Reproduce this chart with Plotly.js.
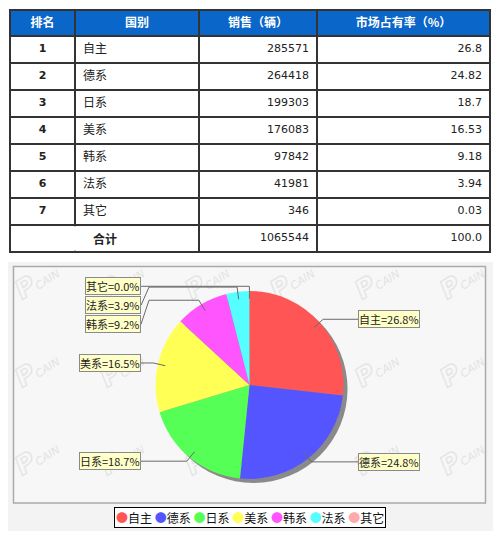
<!DOCTYPE html>
<html><head><meta charset="utf-8">
<script src="https://cdn.plot.ly/plotly-3.0.1.min.js"></script>
<style>html,body{margin:0;padding:0;background:#fff}#chart{width:500px;height:538px}</style>
</head><body><div id="chart"></div>
<script>
// ---- data ----
const headers = ['排名', '国别', '销售（辆）', '市场占有率（%）'];
const ranks = ['1', '2', '3', '4', '5', '6', '7'];
const categories = ['自主', '德系', '日系', '美系', '韩系', '法系', '其它'];
const sales = [285571, 264418, 199303, 176083, 97842, 41981, 346];
const shares = ['26.8', '24.82', '18.7', '16.53', '9.18', '3.94', '0.03'];
const totalLabel = '合计';
const totalSales = '1065544';
const totalShare = '100.0';
const colors = ['#ff5555', '#5555ff', '#55ff55', '#ffff55', '#ff55ff', '#55ffff', '#ffaaaa'];

// ---- layout helpers ----
const W = 500, H = 538;
const px = x => x / W;
const py = y => 1 - y / H;
const CJK = '"Noto Sans CJK SC", "DejaVu Sans", sans-serif';
const NUM = '"DejaVu Sans", "Noto Sans CJK SC", sans-serif';

// table geometry
const tX0 = 10, tX1 = 490, tY0 = 10, headH = 26, rowH = 27;
const colW = [65, 124, 118, 173];
const nRows = ranks.length + 1;
const tY1 = tY0 + headH + nRows * rowH;

// pie geometry
const cx = 249.5, cy = 385, R = 94;

const traces = [];
traces.push({
  type: 'table',
  domain: {x: [px(tX0), px(tX1)], y: [py(tY1 + 1), py(tY0)]},
  columnwidth: colW,
  header: {
    values: headers,
    align: 'center',
    height: headH,
    fill: {color: '#0a66c8'},
    line: {color: '#333', width: 1.5},
    font: {family: CJK, size: 12, color: '#ffffff', weight: 'bold'}
  },
  cells: {
    values: [
      ranks.concat(['']),
      categories.concat(['']),
      sales.map(String).concat([totalSales]),
      shares.concat([totalShare])
    ],
    align: ['center', 'left', 'right', 'right'],
    height: rowH,
    fill: {color: '#ffffff'},
    line: {color: '#333', width: 1.5},
    font: {family: [NUM, CJK, NUM, NUM], size: [11, 12, 11, 11], color: '#222',
           weight: ['bold', 'normal', 'normal', 'normal']}
  }
});

// pie shadow
const sh = 4;
traces.push({
  type: 'pie', values: [1], labels: ['shadow'], sort: false,
  marker: {colors: ['#8a8a8a'], line: {width: 0}},
  textinfo: 'none', hoverinfo: 'none', showlegend: false,
  domain: {x: [px(cx - R + sh), px(cx + R + sh)], y: [py(cy + R + sh), py(cy - R + sh)]}
});
traces.push({
  type: 'pie', values: sales, labels: categories, sort: false,
  direction: 'clockwise', rotation: 0,
  marker: {colors: colors, line: {width: 0}},
  textinfo: 'none', hoverinfo: 'none', showlegend: false,
  domain: {x: [px(cx - R), px(cx + R)], y: [py(cy + R), py(cy - R)]}
});

// ---- labels with JFreeChart-like links ----
const total = sales.reduce((a, b) => a + b, 0);
let cum = 0;
const info = sales.map((v, i) => {
  const f = v / total;
  const th = 2 * Math.PI * (cum + f / 2);
  cum += f;
  const pt = k => [cx + k * R * Math.sin(th), cy - k * R * Math.cos(th)];
  const left = Math.sin(th) < 0;
  return {i, f, anchor: pt(0.92), elbow: pt(1.05), left,
          text: categories[i] + '=' + (f * 100).toFixed(1) + '%'};
});
[true, false].forEach(side => {
  const arr = info.filter(d => d.left === side).sort((a, b) => a.elbow[1] - b.elbow[1]);
  let prev = -1e9;
  arr.forEach(d => { d.ly = Math.max(d.elbow[1], prev + 19); prev = d.ly; });
});
const gap = 14.5;
const shapes = [];
const annotations = [];

// chart background with faint watermark (as a below-layer image)
const bgX0 = 8, bgY0 = 262, bgW = 485, bgH = 269;
let wm = '';
for (let r = 0; r < 3; r++) {
  for (let c = 0; c < 6; c++) {
    const wx = 22 + c * 85 - bgX0, wy = 300 + r * 88 - bgY0;
    wm += '<text x="0" y="0" transform="translate(' + wx + ',' + wy + ') rotate(-32)" font-family="DejaVu Sans" font-style="italic" font-size="11" fill="#e3e3e3">' +
          '<tspan font-size="26" font-weight="bold" fill="none" stroke="#e3e3e3" stroke-width="1.2">P</tspan>CAIN</text>';
  }
}
const bgSvg = '<svg xmlns="http://www.w3.org/2000/svg" width="' + bgW + '" height="' + bgH + '">' +
  '<rect x="0" y="0" width="' + bgW + '" height="' + bgH + '" fill="#f3f3f3"/>' +
  '<rect x="5.5" y="4.5" width="472" height="236.5" fill="#f7f7f7"/>' + wm + '</svg>';
const images = [{
  source: 'data:image/svg+xml;charset=utf-8,' + encodeURIComponent(bgSvg),
  xref: 'paper', yref: 'paper', x: px(bgX0), y: py(bgY0), sizex: bgW / W, sizey: bgH / H,
  xanchor: 'left', yanchor: 'top', sizing: 'stretch', layer: 'below'
}];
shapes.push({type: 'rect', xref: 'paper', yref: 'paper', layer: 'below',
  x0: px(13.5), x1: px(485.5), y0: py(503), y1: py(266.5), line: {color: '#aaaaaa', width: 1.5}});

info.forEach(d => {
  const edge = d.left ? cx - R - gap : cx + R + gap;
  const bend = d.left ? edge + 8 : edge - 8;
  const pts = [d.anchor, d.elbow, [bend, d.elbow[1]], [edge, d.ly]];
  const path = pts.map((p, k) => (k ? 'L' : 'M') + px(p[0]) + ',' + py(p[1])).join(' ');
  shapes.push({type: 'path', xref: 'paper', yref: 'paper', path: path, line: {color: '#6a6a6a', width: 1}});
  annotations.push({xref: 'paper', yref: 'paper', x: px(edge), y: py(d.ly),
    xanchor: d.left ? 'right' : 'left', yanchor: 'middle', showarrow: false,
    text: d.text, borderpad: 0, borderwidth: 1,
    font: {family: CJK, size: 11, color: '#222'}, bgcolor: '#ffffc8', bordercolor: '#8a8a8a'});
});

// merged total cell: hide the divider between the first two columns in the last row
const rowTop = tY0 + headH + ranks.length * rowH;
shapes.push({type: 'rect', xref: 'paper', yref: 'paper', layer: 'above',
  x0: px(tX0 + 1.5), x1: px(tX0 + colW[0] + colW[1] - 1.5), y0: py(rowTop + rowH - 1.2), y1: py(rowTop + 1.2),
  fillcolor: '#ffffff', line: {width: 0}});
annotations.push({xref: 'paper', yref: 'paper', x: px(tX0 + (colW[0] + colW[1]) / 2), y: py(rowTop + rowH / 2 + 0.5),
  xanchor: 'center', yanchor: 'middle', showarrow: false, text: '<b>' + totalLabel + '</b>',
  font: {family: CJK, size: 12, color: '#222'}});

// legend
const legendText = categories.map((c, i) => '<span style="color:' + colors[i] + '">●</span>' + c).join(' ');
annotations.push({xref: 'paper', yref: 'paper', x: 0.5, y: py(517.5), xanchor: 'center', yanchor: 'middle',
  showarrow: false, text: legendText, font: {family: CJK, size: 12, color: '#111'},
  bgcolor: '#ffffff', bordercolor: '#000000', borderwidth: 1, borderpad: 1});

const layout = {
  width: W, height: H, margin: {l: 0, r: 0, t: 0, b: 0},
  paper_bgcolor: '#ffffff', plot_bgcolor: '#ffffff',
  showlegend: false, shapes: shapes, annotations: annotations, images: images
};
Plotly.newPlot('chart', traces, layout, {displayModeBar: false, staticPlot: true});
</script></body></html>
